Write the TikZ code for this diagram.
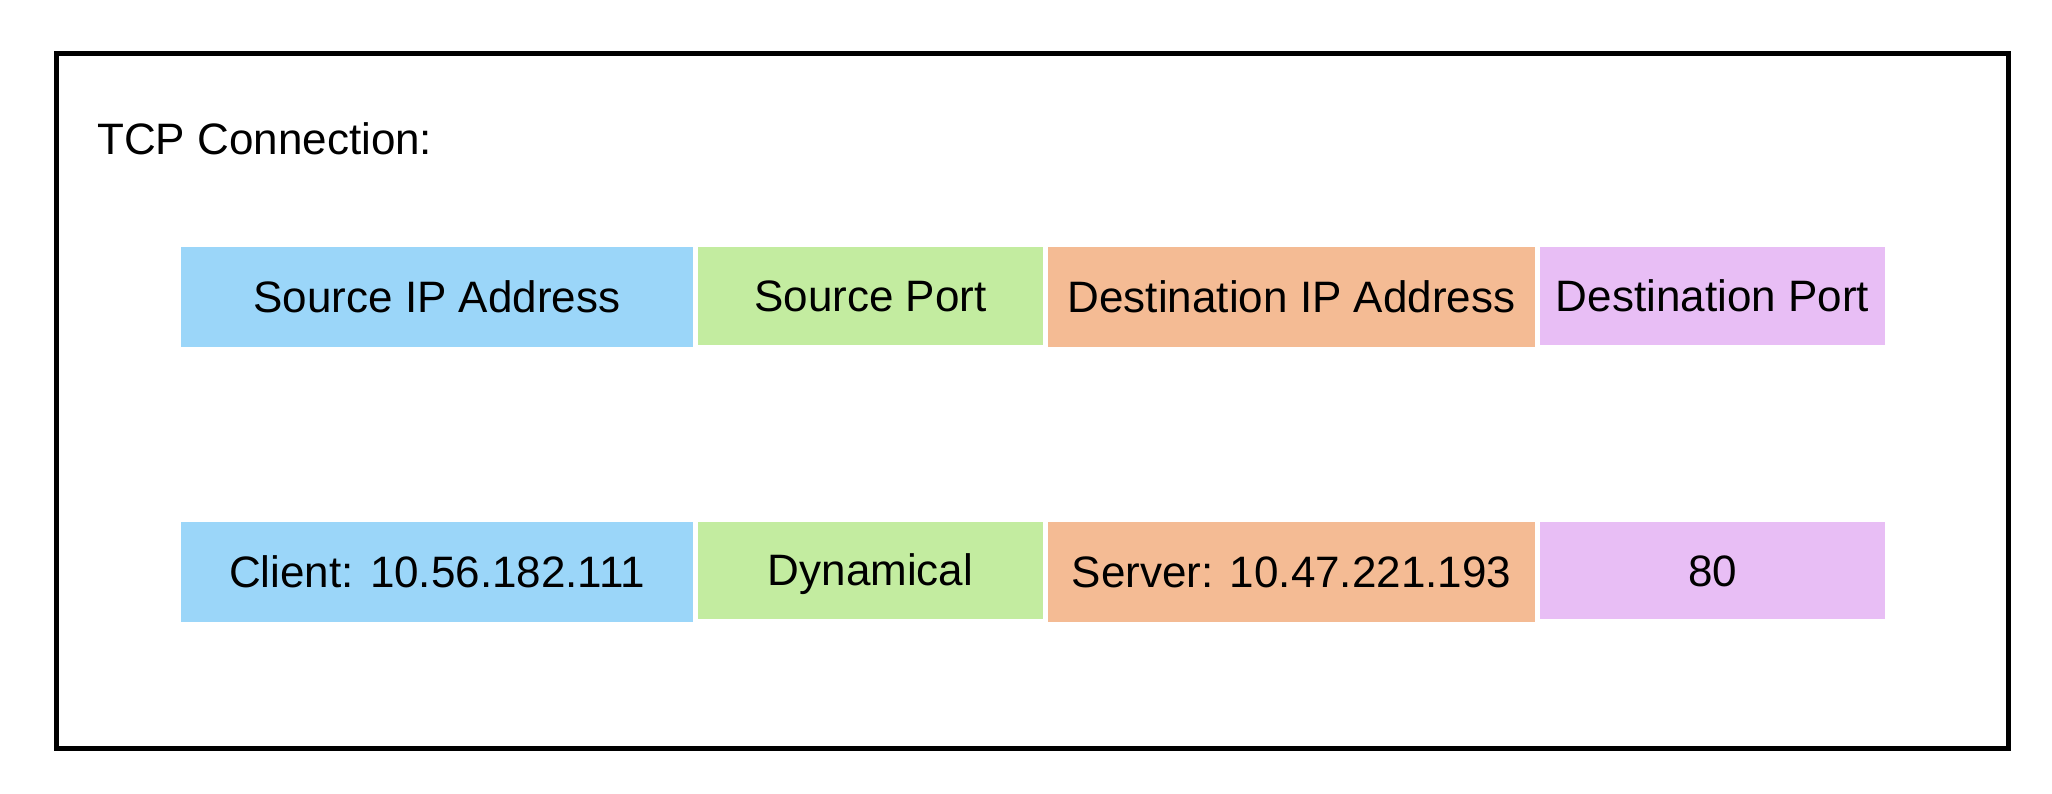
\documentclass[tikz,border=0pt]{standalone}
\usepackage{fontspec}
\setmainfont{Liberation Sans}
\definecolor{cblue}{RGB}{155,214,249}
\definecolor{cgreen}{RGB}{195,236,160}
\definecolor{corange}{RGB}{244,187,148}
\definecolor{cpurple}{RGB}{232,190,245}
\tikzset{
  field/.style={rectangle, inner sep=0pt, draw=none, text height=31.5pt, text depth=0pt,
    font=\fontsize{44}{52}\selectfont, align=center},
  wide/.style={field, minimum width=512pt},
  narrow/.style={field, minimum width=345pt},
  mid/.style={field, minimum width=487pt},
}
\begin{document}
\begin{tikzpicture}[x=1pt, y=-1pt]
\useasboundingbox (0,0) rectangle (2052,794);
\fill[white] (0,0) rectangle (2052,794);
\node[draw=black, line width=5pt, inner sep=0pt, minimum width=1952pt, minimum height=694.7pt] (frame) at (1032.5,401.15) {};
\node[anchor=base west, inner sep=0pt, font=\fontsize{44}{52}\selectfont] (title) at (97,155) {TCP Connection:};
% row 1
\node[wide, fill=cblue, minimum height=100pt] (sipH) at (437,297) {Source IP Address};
\node[narrow, fill=cgreen, minimum height=98pt] (sportH) at (870.5,296) {Source Port};
\node[mid, fill=corange, minimum height=100pt] (dipH) at (1291.5,297) {Destination IP Address};
\node[narrow, fill=cpurple, minimum height=98pt] (dportH) at (1712.5,296) {Destination Port};
% row 2
\node[wide, fill=cblue, minimum height=100pt] (sipV) at (437,571.5) {Client: 10.56.182.111};
\node[narrow, fill=cgreen, minimum height=97pt] (sportV) at (870.5,570) {Dynamical};
\node[mid, fill=corange, minimum height=100pt] (dipV) at (1291.5,572) {Server: 10.47.221.193};
\node[narrow, fill=cpurple, minimum height=97pt] (dportV) at (1712.5,570.5) {80};
\end{tikzpicture}
\end{document}
